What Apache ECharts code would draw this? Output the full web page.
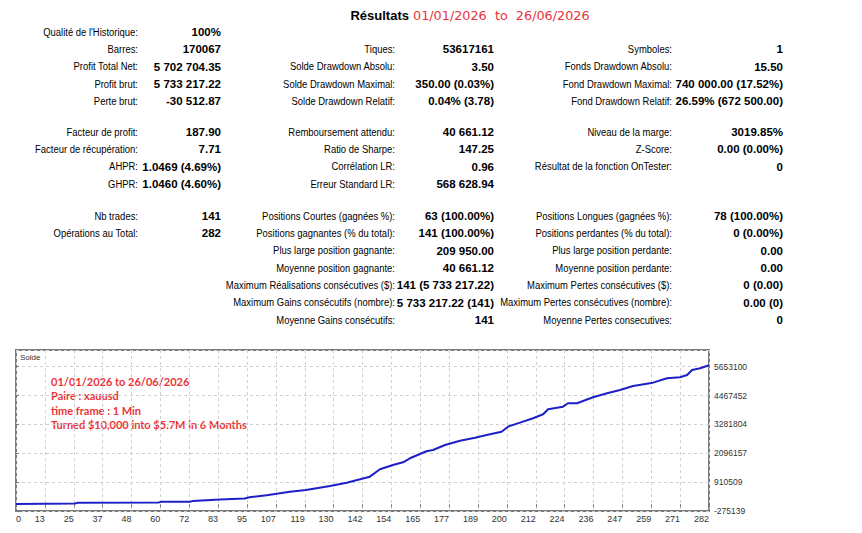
<!DOCTYPE html>
<html>
<head>
<meta charset="utf-8">
<script src="https://cdn.jsdelivr.net/npm/echarts@6/dist/echarts.min.js"></script>
<style>
  html, body { margin: 0; padding: 0; background: #fff; }
  #main { width: 862px; height: 533px; }
</style>
</head>
<body>
<div id="main"></div>
<script>
// en-tete
var titleText = 'Résultats';
var periodText = '01/01/2026  to  26/06/2026';

// statistiques, bloc 1
var stats1Col1 = [["Qualité de l'Historique:", '100%'], ['Barres:', '170067'], ['Profit Total Net:', '5 702 704.35'], ['Profit brut:', '5 733 217.22'], ['Perte brut:', '-30 512.87']];
var stats1Col2 = [['', ''], ['Tiques:', '53617161'], ['Solde Drawdown Absolu:', '3.50'], ['Solde Drawdown Maximal:', '350.00 (0.03%)'], ['Solde Drawdown Relatif:', '0.04% (3.78)']];
var stats1Col3 = [['', ''], ['Symboles:', '1'], ['Fonds Drawdown Absolu:', '15.50'], ['Fond Drawdown Maximal:', '740 000.00 (17.52%)'], ['Fond Drawdown Relatif:', '26.59% (672 500.00)']];

// bloc 2
var stats2Col1 = [['Facteur de profit:', '187.90'], ['Facteur de récupération:', '7.71'], ['AHPR:', '1.0469 (4.69%)'], ['GHPR:', '1.0460 (4.60%)']];
var stats2Col2 = [['Remboursement attendu:', '40 661.12'], ['Ratio de Sharpe:', '147.25'], ['Corrélation LR:', '0.96'], ['Erreur Standard LR:', '568 628.94']];
var stats2Col3 = [['Niveau de la marge:', '3019.85%'], ['Z-Score:', '0.00 (0.00%)'], ['Résultat de la fonction OnTester:', '0']];

// bloc 3
var stats3Col1 = [['Nb trades:', '141'], ['Opérations au Total:', '282']];
var stats3Col2 = [['Positions Courtes (gagnées %):', '63 (100.00%)'], ['Positions gagnantes (% du total):', '141 (100.00%)'], ['Plus large position gagnante:', '209 950.00'], ['Moyenne position gagnante:', '40 661.12'], ['Maximum Réalisations consécutives ($):', '141 (5 733 217.22)'], ['Maximum Gains consécutifs (nombre):', '5 733 217.22 (141)'], ['Moyenne Gains consécutifs:', '141']];
var stats3Col3 = [['Positions Longues (gagnées %):', '78 (100.00%)'], ['Positions perdantes (% du total):', '0 (0.00%)'], ['Plus large position perdante:', '0.00'], ['Moyenne position perdante:', '0.00'], ['Maximum Pertes consécutives ($):', '0 (0.00)'], ['Maximum Pertes consécutives (nombre):', '0.00 (0)'], ['Moyenne Pertes consecutives:', '0']];

// courbe de solde (numero d'operation, solde)
var dealIndex = [0, 24, 25, 58, 59, 71, 72, 83, 93, 95, 102, 111.5, 118, 127.8, 134.6, 140, 144, 148.1, 153.4, 157.5, 160.3, 164.4, 167, 169.7, 174.6, 180.7, 186.8, 191.5, 197.6, 200.2, 205.1, 210.4, 214.5, 216.5, 222.6, 224.6, 228.3, 234.8, 240.5, 245.8, 251.1, 259.2, 264.9, 270.2, 273.1, 275.1, 278.4, 282];
var balance = [10000, 30000, 60000, 75000, 100000, 110000, 140000, 200000, 240000, 288000, 370000, 518000, 588000, 752000, 888000, 1028000, 1135000, 1439000, 1615000, 1726000, 1891000, 2068000, 2179000, 2232000, 2437000, 2614000, 2737000, 2848000, 2984000, 3190000, 3354000, 3535000, 3699000, 3905000, 4012000, 4151000, 4151000, 4398000, 4562000, 4698000, 4862000, 4998000, 5179000, 5220000, 5314000, 5520000, 5590000, 5712704];

// axes
var xTickLabels = ['0', '13', '25', '37', '48', '60', '72', '83', '95', '107', '119', '130', '142', '154', '165', '177', '189', '200', '212', '224', '236', '247', '259', '271', '282'];
var yTickLabels = ['-275139', '910509', '2096157', '3281804', '4467452', '5653100'];

var chartNote = ['01/01/2026 to 26/06/2026', 'Paire : xauusd', 'time frame : 1 Min', 'Turned $10,000 into $5.7M in 6 Months'];

var xMax = 282, xStep = 11.75;
var yMin = -275139, yStep = 1185648, yMax = 6340000;

var uiFont = "'Liberation Sans', Arial, sans-serif";

var myChart = echarts.init(document.getElementById('main'), null, { renderer: 'svg' });

var graphics = [];

function addColumn(rows, labelRight, valueRight, top, step) {
    rows.forEach(function (r, i) {
        var y = top + i * step;
        if (r[0]) {
            // libelle : police etroite simulee par un scaleX
            graphics.push({ type: 'text', x: labelRight, y: y, scaleX: 0.86,
                style: { text: r[0], x: 0, y: 0, align: 'right', verticalAlign: 'middle',
                    fontFamily: uiFont, fontSize: 11, fill: '#000' } });
        }
        if (r[1]) {
            graphics.push({ type: 'text', style: { text: r[1], x: valueRight, y: y, align: 'right', verticalAlign: 'middle',
                fontFamily: uiFont, fontWeight: 'bold', fontSize: 11.5, fill: '#000' } });
        }
    });
}

var rowStep = 17.3;
addColumn(stats1Col1, 138, 221, 32, rowStep);
addColumn(stats1Col2, 395, 494, 32, rowStep);
addColumn(stats1Col3, 672, 783, 32, rowStep);
addColumn(stats2Col1, 138, 221, 132, rowStep);
addColumn(stats2Col2, 395, 494, 132, rowStep);
addColumn(stats2Col3, 672, 783, 132, rowStep);
addColumn(stats3Col1, 138, 221, 216, rowStep);
addColumn(stats3Col2, 395, 494, 216, rowStep);
addColumn(stats3Col3, 672, 783, 216, rowStep);

// titre
graphics.push({ type: 'text', style: { text: titleText, x: 409, y: 15, align: 'right', verticalAlign: 'middle',
    fontFamily: uiFont, fontWeight: 'bold', fontSize: 13, fill: '#000' } });
graphics.push({ type: 'text', style: { text: periodText, x: 413, y: 15, align: 'left', verticalAlign: 'middle',
    fontFamily: "'DejaVu Sans', sans-serif", fontSize: 12.8, fill: '#e8333b' } });

// legende du graphique
graphics.push({ type: 'text', style: { text: 'Solde', x: 20, y: 357, verticalAlign: 'middle',
    fontFamily: uiFont, fontSize: 8, fill: '#333' } });
chartNote.forEach(function (t, i) {
    graphics.push({ type: 'text', style: { text: t, x: 51, y: 381 + i * 14.6, verticalAlign: 'middle',
        fontFamily: 'Lato, sans-serif', fontWeight: 'bold', fontSize: 11, fill: '#ec3438' } });
});

myChart.setOption({
    animation: false,
    backgroundColor: '#fff',
    grid: {
        left: 16, top: 350, width: 693, height: 161,
        show: true, borderColor: '#7a7a7a', borderWidth: 2, backgroundColor: '#fff'
    },
    xAxis: {
        type: 'value',
        min: 0, max: xMax, interval: xStep,
        axisLine: { show: false },
        axisTick: { show: true, length: 3, lineStyle: { color: '#7a7a7a' } },
        axisLabel: {
            fontSize: 9, color: '#333', fontFamily: uiFont, margin: 3,
            align: 'right', alignMinLabel: 'left', alignMaxLabel: 'right',
            formatter: function (v) { return xTickLabels[Math.round(v / xStep)] || ''; }
        },
        splitLine: { show: true, lineStyle: { color: '#cfcfcf', type: [3, 3] } }
    },
    yAxis: {
        type: 'value', position: 'right',
        min: yMin, max: yMax, interval: yStep,
        axisLine: { show: false },
        axisTick: { show: true, length: 3, lineStyle: { color: '#7a7a7a' } },
        axisLabel: {
            fontSize: 8.5, color: '#333', fontFamily: uiFont, margin: 5,
            showMaxLabel: false,
            formatter: function (v) {
                var i = Math.round((v - yMin) / yStep);
                return Math.abs(v - (yMin + i * yStep)) < 10 ? (yTickLabels[i] || '') : '';
            }
        },
        splitLine: { show: true, lineStyle: { color: '#cfcfcf', type: [3, 3] } }
    },
    graphic: graphics,
    series: [{
        name: 'Solde',
        type: 'line',
        data: dealIndex.map(function (x, i) { return [x, balance[i]]; }),
        showSymbol: false,
        lineStyle: { color: '#1f1fc8', width: 2 }
    }]
});
</script>
</body>
</html>
